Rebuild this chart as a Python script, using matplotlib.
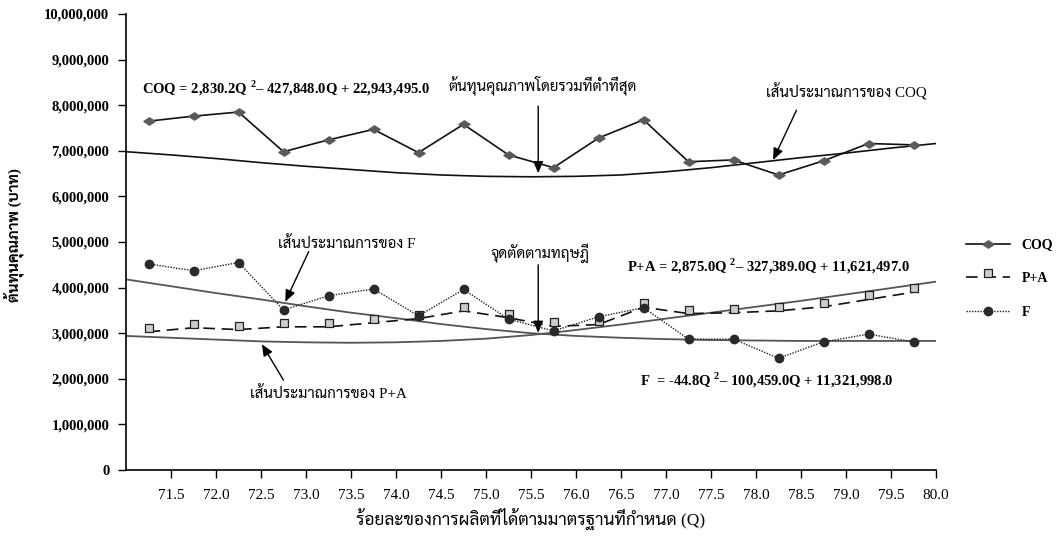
import matplotlib
matplotlib.use('Agg')
import matplotlib.pyplot as plt
from matplotlib import font_manager as fm
from matplotlib.ft2font import FT2Font
from matplotlib.path import Path

# ---------------- data ----------------
q_points = [71.25, 71.75, 72.25, 72.75, 73.25, 73.75, 74.25, 74.75, 75.25,
            75.75, 76.25, 76.75, 77.25, 77.75, 78.25, 78.75, 79.25, 79.75]
coq = [7.65, 7.76, 7.85, 6.98, 7.24, 7.47, 6.96, 7.58, 6.91,
       6.63, 7.28, 7.68, 6.76, 6.80, 6.47, 6.78, 7.16, 7.13]
pa = [3.03, 3.12, 3.08, 3.14, 3.14, 3.23, 3.32, 3.49, 3.34,
      3.15, 3.19, 3.57, 3.43, 3.45, 3.49, 3.58, 3.74, 3.90]
f = [4.52, 4.37, 4.55, 3.51, 3.82, 3.97, 3.38, 3.96, 3.31,
     3.05, 3.36, 3.56, 2.87, 2.87, 2.45, 2.81, 2.98, 2.81]

q_trend = [71.0, 71.5, 72.0, 72.5, 73.0, 73.5, 74.0, 74.5, 75.0, 75.5,
           76.0, 76.5, 77.0, 77.5, 78.0, 78.5, 79.0, 79.5, 80.0]
coq_trend = [6.98, 6.91, 6.83, 6.74, 6.66, 6.59, 6.52, 6.47, 6.44, 6.43,
             6.44, 6.47, 6.54, 6.63, 6.74, 6.85, 6.95, 7.06, 7.16]
pa_trend = [2.94, 2.90, 2.86, 2.82, 2.80, 2.79, 2.80, 2.83, 2.88, 2.96,
            3.07, 3.19, 3.32, 3.45, 3.58, 3.71, 3.85, 3.99, 4.13]
f_trend = [4.18, 4.03, 3.88, 3.74, 3.59, 3.45, 3.33, 3.20, 3.09, 3.00,
           2.94, 2.90, 2.87, 2.85, 2.84, 2.83, 2.83, 2.83, 2.83]

x_ticks = [71.5, 72.0, 72.5, 73.0, 73.5, 74.0, 74.5, 75.0, 75.5, 76.0,
           76.5, 77.0, 77.5, 78.0, 78.5, 79.0, 79.5, 80.0]
y_ticks = [0, 1, 2, 3, 4, 5, 6, 7, 8, 9, 10]
y_ticklabels = ['0', '1,000,000', '2,000,000', '3,000,000', '4,000,000',
                '5,000,000', '6,000,000', '7,000,000', '8,000,000',
                '9,000,000', '10,000,000']

# ---------------- fonts ----------------
names = sorted(set(fe.name for fe in fm.fontManager.ttflist))
thai = None
for pref in ['Sarabun', 'Taviraj', 'Noto Serif Thai', 'Trirong', 'Noto Sans Thai']:
    if pref in names:
        thai = pref
        break
if thai is None:
    for fe in fm.fontManager.ttflist:
        try:
            cmap = FT2Font(fe.fname).get_charmap()
        except Exception:
            continue
        if 0x0E15 in cmap and 0x0E49 in cmap:
            thai = fe.name
            break
serif = 'Liberation Serif'
fam = [serif] + ([thai] if thai else []) + ['DejaVu Sans']
plt.rcParams['font.family'] = fam
plt.rcParams['mathtext.fontset'] = 'custom'
plt.rcParams['mathtext.rm'] = serif
plt.rcParams['mathtext.bf'] = serif + ':bold'

fig = plt.figure(figsize=(10.6, 5.4), dpi=100)
ax = fig.add_axes([126 / 1060, 1 - 470 / 540, 810 / 1060, 456 / 540])

# trend lines
ax.plot(q_trend, coq_trend, color='#111111', lw=1.2, zorder=2)
ax.plot(q_trend, f_trend, color='#555555', lw=1.3, zorder=2)
ax.plot(q_trend, pa_trend, color='#555555', lw=1.3, zorder=2)

# custom markers
diamond = Path([(-0.5, 0), (0, 0.33), (0.5, 0), (0, -0.33), (-0.5, 0)], closed=True)
sq_up = Path([(-0.5, 0), (0.5, 0), (0.5, 1), (-0.5, 1), (-0.5, 0)], closed=True)

ax.plot(q_points, coq, color='#111111', lw=1.2, marker=diamond, ms=8,
        mfc='#5a5a5a', mec='#5a5a5a', zorder=4, label='COQ')
ax.plot(q_points, pa, color='#111111', lw=1.2, ls=(0, (7, 4)), marker=sq_up, ms=12,
        mfc='#cccccc', mec='#222222', mew=0.9, zorder=4, label='P+A')
ax.plot(q_points, f, color='#222222', lw=1.0, ls=(0, (1, 1)), marker='o', ms=6,
        mfc='#2a2a2a', mec='#2a2a2a', zorder=5, label='F')

ax.set_xlim(71.0, 80.0)
ax.set_ylim(0, 10)
ax.set_xticks(x_ticks)
ax.set_xticklabels([f'{v:.1f}' for v in x_ticks], fontsize=11)
ax.set_yticks(y_ticks)
ax.set_yticklabels(y_ticklabels, fontsize=10.5, fontweight='bold')
ax.tick_params(axis='both', direction='out', length=6, width=1, colors='black', pad=6)
ax.tick_params(axis='x', pad=8)
for s in ['top', 'right']:
    ax.spines[s].set_visible(False)
for s in ['left', 'bottom']:
    ax.spines[s].set_linewidth(1.2)

ax.set_xlabel('ร้อยละของการผลิตที่ได้ตามมาตรฐานที่กำหนด (Q)', fontsize=12.5, labelpad=4)
ax.set_ylabel('ต้นทุนคุณภาพ (บาท)', fontsize=11, fontweight='bold')
ax.yaxis.set_label_coords(-0.126, 0.515)

# equations
ax.text(72.78, 8.38, r'COQ = 2,830.2Q $^{\mathbf{2}}$– 427,848.0Q + 22,943,495.0',
        fontsize=10.5, fontweight='bold', ha='center', va='center')
ax.text(78.14, 4.47, r'P+A = 2,875.0Q $^{\mathbf{2}}$– 327,389.0Q + 11,621,497.0',
        fontsize=10.5, fontweight='bold', ha='center', va='center')
ax.text(78.12, 1.96, r'F  = -44.8Q $^{\mathbf{2}}$– 100,459.0Q + 11,321,998.0',
        fontsize=10.5, fontweight='bold', ha='center', va='center')

arrow = dict(arrowstyle='-|>,head_length=0.7,head_width=0.3', color='black', lw=1.0,
             shrinkA=0, shrinkB=0)
tfs = 10.8
ax.text(75.63, 8.44, 'ต้นทุนคุณภาพโดยรวมที่ต่ำที่สุด', fontsize=tfs, ha='center', va='center')
ax.annotate('', xy=(75.58, 6.51), xytext=(75.58, 7.98), arrowprops=arrow)
ax.text(79.0, 8.30, 'เส้นประมาณการของ COQ', fontsize=tfs, ha='center', va='center')
ax.annotate('', xy=(78.19, 6.80), xytext=(78.45, 7.89), arrowprops=arrow)
ax.text(73.45, 4.97, 'เส้นประมาณการของ F', fontsize=tfs, ha='center', va='center')
ax.annotate('', xy=(72.77, 3.69), xytext=(73.03, 4.79), arrowprops=arrow)
ax.text(75.6, 4.76, 'จุดตัดตามทฤษฎี', fontsize=tfs, ha='center', va='center')
ax.annotate('', xy=(75.58, 3.01), xytext=(75.58, 4.50), arrowprops=arrow)
ax.text(73.25, 1.68, 'เส้นประมาณการของ P+A', fontsize=tfs, ha='center', va='center')
ax.annotate('', xy=(72.51, 2.76), xytext=(72.75, 1.97), arrowprops=arrow)

ax.legend(loc='upper left', bbox_to_anchor=(1.03, 0.52), frameon=False,
          prop={'weight': 'bold', 'size': 10}, handlelength=3.2,
          labelspacing=1.5, borderaxespad=0)

fig.savefig('out.png', dpi=100)
